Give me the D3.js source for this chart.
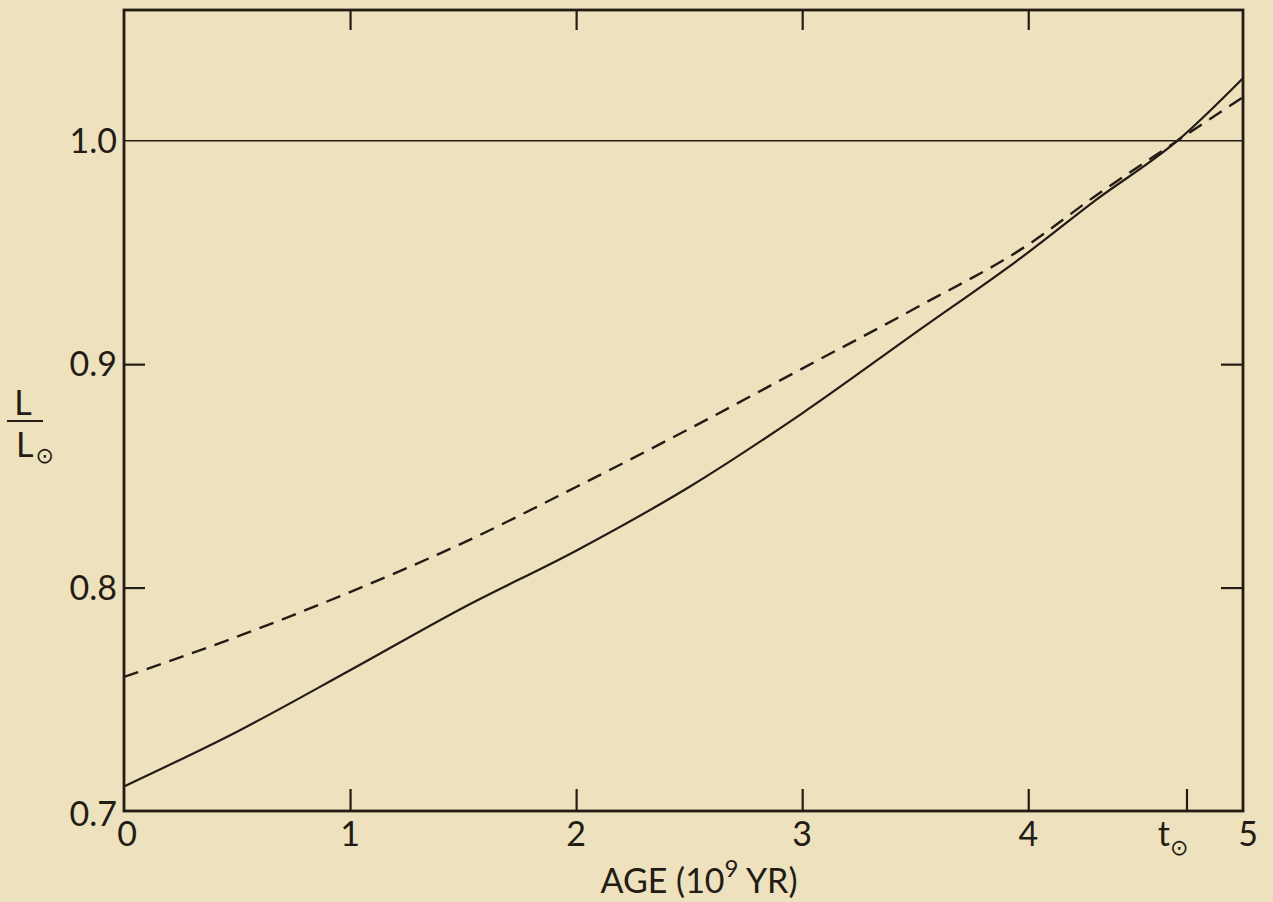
<!DOCTYPE html>
<html>
<head>
<meta charset="utf-8">
<script src="https://cdn.jsdelivr.net/npm/d3@7"></script>
<style>
  html, body { margin: 0; padding: 0; background: #eee1bd; }
  svg { display: block; }
  text { font-family: "Lato", "Open Sans", sans-serif; fill: #231c14; }
</style>
</head>
<body>
<svg id="chart" width="1273" height="902"></svg>
<script>
// ---- data ----
const ages = [0, 0.5, 1.0, 1.5, 2.0, 2.5, 3.0, 3.5, 4.0, 4.3, 4.66, 4.95];
const solidLum = [0.711, 0.7355, 0.763, 0.791, 0.8165, 0.845, 0.878, 0.914, 0.950, 0.9735, 1.0, 1.028];
const dashedLum = [0.760, 0.778, 0.798, 0.820, 0.845, 0.871, 0.898, 0.925, 0.9535, 0.9755, 1.0, 1.0195];
const xTickValues = [0, 1, 2, 3, 4, 4.7, 5];
const xTickLabels = ["0", "1", "2", "3", "4", "t", "5"];
const yTickValues = [0.7, 0.8, 0.9, 1.0];
const yTickLabels = ["0.7", "0.8", "0.9", "1.0"];
const referenceLine = 1.0;

const ink = "#231c14";
const svg = d3.select("#chart");

const x = d3.scaleLinear().domain([0, 4.95]).range([124, 1243]);
const y = d3.scaleLinear().domain([0.7, 1.0585]).range([811, 10]);

const [x0, x1] = x.range();
const [yb, yt] = y.range();

// ticks via axes (inward)
svg.append("g").attr("transform", `translate(0,${yb})`)
  .call(d3.axisBottom(x).tickValues([1, 2, 3, 4, 4.7]).tickSize(-22).tickFormat(""))
  .call(g => { g.select(".domain").remove(); g.selectAll("line").attr("stroke", ink).attr("stroke-width", 2.2); });
svg.append("g").attr("transform", `translate(0,${yt})`)
  .call(d3.axisTop(x).tickValues([1, 2, 3, 4]).tickSize(-20).tickFormat(""))
  .call(g => { g.select(".domain").remove(); g.selectAll("line").attr("stroke", ink).attr("stroke-width", 2.2); });
svg.append("g").attr("transform", `translate(${x0},0)`)
  .call(d3.axisLeft(y).tickValues([0.8, 0.9]).tickSize(-21).tickFormat(""))
  .call(g => { g.select(".domain").remove(); g.selectAll("line").attr("stroke", ink).attr("stroke-width", 2.2); });
svg.append("g").attr("transform", `translate(${x1},0)`)
  .call(d3.axisRight(y).tickValues([0.8, 0.9]).tickSize(-22).tickFormat(""))
  .call(g => { g.select(".domain").remove(); g.selectAll("line").attr("stroke", ink).attr("stroke-width", 2.2); });

// reference line at L/Lsun = 1
svg.append("line")
  .attr("x1", x0).attr("x2", x1)
  .attr("y1", y(referenceLine)).attr("y2", y(referenceLine))
  .attr("stroke", ink).attr("stroke-width", 1.6);

// frame
svg.append("rect")
  .attr("x", x0).attr("y", yt)
  .attr("width", x1 - x0).attr("height", yb - yt)
  .attr("fill", "none").attr("stroke", ink).attr("stroke-width", 2.8);

// curves
const line = d3.line()
  .x((d, i) => x(ages[i]))
  .y(d => y(d))
  .curve(d3.curveMonotoneX);

svg.append("path").datum(solidLum)
  .attr("d", line).attr("fill", "none")
  .attr("stroke", ink).attr("stroke-width", 2.2);

svg.append("path").datum(dashedLum)
  .attr("d", line).attr("fill", "none")
  .attr("stroke", ink).attr("stroke-width", 2.4)
  .attr("stroke-dasharray", "15 9");

// y tick labels
svg.selectAll("text.ylab").data(yTickValues).join("text")
  .attr("class", "ylab")
  .attr("x", 117)
  .attr("y", d => y(d) + (d === 0.7 ? 3 : 0))
  .attr("dy", "0.36em")
  .attr("text-anchor", "end")
  .attr("font-size", 34)
  .text((d, i) => yTickLabels[i]);

// x tick labels
const xl = svg.selectAll("g.xlab").data(xTickValues).join("g")
  .attr("class", "xlab")
  .attr("transform", d => `translate(${Math.min(x(d), x1 + 5) + (d === 0 ? 3 : 0)},846)`);
xl.append("text")
  .attr("text-anchor", "middle")
  .attr("font-size", 34)
  .text((d, i) => xTickLabels[i])
  .filter(d => d === 4.7)
  .attr("text-anchor", "end")
  .attr("dx", 2)
  .append("tspan")
  .attr("font-family", "DejaVu Sans")
  .attr("font-size", 22)
  .attr("dy", 9)
  .text("⊙");

// x axis title
svg.append("text")
  .attr("x", 699).attr("y", 893)
  .attr("text-anchor", "middle")
  .attr("font-size", 34)
  .text("AGE (10")
  .append("tspan").attr("font-size", 24).attr("dy", -16).text("9")
  .append("tspan").attr("font-size", 34).attr("dy", 16).text(" YR)");

// y axis title: L / L_sun
svg.append("text").attr("x", 23).attr("y", 415)
  .attr("text-anchor", "middle").attr("font-size", 34).text("L");
svg.append("line").attr("x1", 7).attr("x2", 43).attr("y1", 421).attr("y2", 421)
  .attr("stroke", ink).attr("stroke-width", 2.2);
const lsun = svg.append("text").attr("x", 16).attr("y", 457)
  .attr("font-size", 34).text("L");
lsun.append("tspan").attr("font-family", "DejaVu Sans").attr("font-size", 22)
  .attr("dx", 2).attr("dy", 6).text("⊙");
</script>
</body>
</html>
